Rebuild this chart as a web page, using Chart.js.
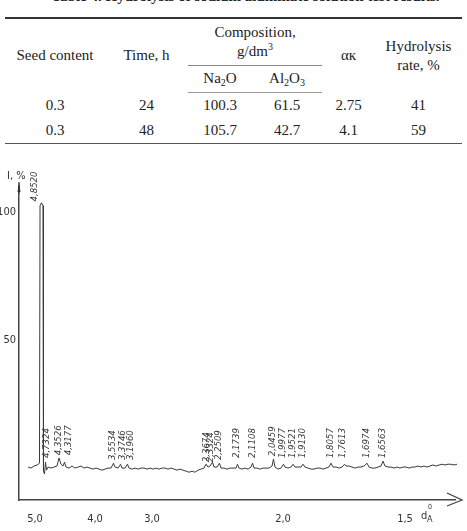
<!DOCTYPE html>
<html>
<head>
<meta charset="utf-8">
<script src="https://cdn.jsdelivr.net/npm/chart.js@4/dist/chart.umd.min.js"></script>
<style>
  html, body { margin: 0; padding: 0; background: #fff; }
  body { width: 467px; height: 531px; position: relative; overflow: hidden;
         font-family: 'Liberation Serif', 'Times New Roman', serif; color: #222; }
  .title { position: absolute; left: 12px; width: 467px; top: -12px; text-align: center;
           font-weight: bold; font-size: 15px; white-space: nowrap; }
  table { position: absolute; left: 5px; top: 17px; width: 457px; border-collapse: collapse;
          table-layout: fixed; font-size: 15px; }
  td { text-align: center; vertical-align: middle; padding: 0; line-height: 19px; }
  thead tr.h1 td { height: 46px; }
  thead tr.h2 td { height: 27px; }
  tbody td { height: 25px; }
  table { border-top: 2px solid #333; border-bottom: 1.5px solid #555; }
  thead tr.h2 td { border-bottom: 1px solid #999; }
  td.comp { position: relative; }
  td.comp::after { content: ''; position: absolute; left: 0; right: 0; bottom: -1px; border-bottom: 1px solid #888; }
  sub { font-size: 10px; vertical-align: -3px; line-height: 0; }
  sup { font-size: 10px; vertical-align: 6px; line-height: 0; }
  #wrap { position: absolute; left: 0; top: 150px; width: 467px; height: 381px; }
</style>
</head>
<body>
<div class="title">Table 4. Hydrolysis of sodium aluminate solution test results.</div>
<table>
  <colgroup>
    <col style="width:100px"><col style="width:83px"><col style="width:64px">
    <col style="width:70px"><col style="width:53px"><col style="width:87px">
  </colgroup>
  <thead>
    <tr class="h1">
      <td rowspan="2">Seed content</td>
      <td rowspan="2">Time, h</td>
      <td colspan="2" class="comp">Composition,<br>g/dm<sup>3</sup></td>
      <td rowspan="2">αк</td>
      <td rowspan="2">Hydrolysis<br>rate, %</td>
    </tr>
    <tr class="h2">
      <td>Na<sub>2</sub>O</td>
      <td>Al<sub>2</sub>O<sub>3</sub></td>
    </tr>
  </thead>
  <tbody>
    <tr><td>0.3</td><td>24</td><td>100.3</td><td>61.5</td><td>2.75</td><td>41</td></tr>
    <tr><td>0.3</td><td>48</td><td>105.7</td><td>42.7</td><td>4.1</td><td>59</td></tr>
  </tbody>
</table>
<div id="wrap"><canvas id="xrd" width="467" height="381"></canvas></div>
<script>
// diffractogram trace: scan position (2θ, deg) and relative intensity (%)
const scanAngle = [
  16.13, 16.50, 16.88, 17.25, 17.56, 17.63, 17.81, 18.00, 18.06, 18.19,
  18.31, 18.44, 18.63, 19.00, 19.38, 19.75, 20.00, 20.25, 20.50, 20.69,
  20.88, 21.25, 21.63, 22.00, 22.38, 22.75, 23.13, 23.50, 23.88, 24.25,
  24.63, 25.00, 25.38, 25.75, 26.13, 26.50, 26.81, 27.00, 27.38, 27.69,
  27.88, 28.25, 28.56, 28.75, 29.13, 29.50, 29.88, 30.25, 30.63, 31.00,
  31.38, 31.75, 32.13, 32.50, 32.88, 33.25, 33.63, 34.00, 34.38, 34.75,
  35.13, 35.50, 35.88, 36.25, 36.63, 37.00, 37.38, 37.75, 38.13, 38.38,
  38.63, 38.88, 39.19, 39.38, 39.75, 40.06, 40.25, 40.63, 41.00, 41.38,
  41.75, 42.13, 42.31, 42.50, 42.88, 43.25, 43.63, 44.00, 44.19, 44.38,
  44.75, 45.13, 45.50, 45.88, 46.25, 46.63, 46.81, 47.00, 47.38, 47.75,
  48.06, 48.25, 48.63, 49.00, 49.25, 49.50, 49.88, 50.25, 50.50, 50.75,
  51.13, 51.50, 51.88, 52.25, 52.63, 53.00, 53.38, 53.75, 54.00, 54.25,
  54.63, 55.00, 55.38, 55.69, 55.88, 56.25, 56.63, 57.00, 57.38, 57.75,
  58.13, 58.50, 58.75, 59.13, 59.50, 59.88, 60.25, 60.50, 60.75, 61.13,
  61.50, 61.88, 62.25, 62.63, 63.00, 63.38, 63.75, 64.13, 64.50, 64.88,
  65.25, 65.63, 66.00, 66.38, 66.75, 67.13, 67.50, 67.88, 68.25, 68.63,
  69.00, 69.38, 69.75
];
const scanIntensity = [
  0.8, 0.4, 1.2, 1.6, 2.3, 102.3, 103.5, 102.3, -0.8, -1.9,
  2.7, -0.4, 0.8, 0.4, 0.8, 1.2, 4.3, 1.9, 1.2, 2.7,
  0.8, 0.4, 1.2, 0.4, 0.8, 1.2, 0.4, 0.8, 0.4, 0,
  0.4, 0, -0.4, 0, 0.4, 0.4, 2.3, 0.8, 0.4, 1.9,
  0.4, 0.4, 1.9, 0.4, 0, 0.4, 0, 0.4, 0.4, 0,
  0.4, 0, 0.4, 0, 0.4, 0.4, 0, 0.4, 0, -0.4,
  0, -0.4, -0.8, -1.2, -0.8, -1.2, -0.4, 0, 0.4, 1.9,
  0.8, 1.2, 2.7, 0.8, 0.8, 2.3, 0.4, 0.4, 0, 0.4,
  0.4, 0.4, 1.9, 0.4, 0, 0.4, 0, 0.8, 2.3, 0.4,
  0.4, 0, 0.4, 0.4, 0.4, 1.2, 3.9, 0.8, 0, 0.4,
  1.9, 0.8, 0.4, 0.8, 1.9, 0.8, 0.8, 0.8, 1.9, 0.8,
  0.4, 0, 0, 0.4, 0.4, 0, 0.4, 0.8, 2.3, 0.8,
  0.8, 0.4, 0.8, 1.9, 1.2, 1.2, 0.8, 0.4, 0.8, 0.8,
  1.2, 2.3, 0.8, 0.4, 0.4, 0.8, 1.2, 3.1, 1.2, 0.8,
  0.8, 0.4, 0.8, 0.4, 0.8, 0.8, 0.4, 0.8, 0.8, 1.2,
  0.8, 1.2, 0.8, 1.2, 1.6, 1.2, 1.6, 1.9, 1.6, 1.9,
  1.9, 1.6, 1.9
];

// interplanar spacing labels written above the reflections
const peakAngle = [17.0, 18.45, 20.0, 21.25, 26.75, 27.88, 28.88, 38.5, 39.0, 39.88,
                   42.25, 44.13, 46.75, 48.0, 49.13, 50.38, 54.0, 55.5, 58.5, 60.38];
const peakBase = [104, 4.3, 5.4, 5.4, 3.5, 3.5, 3.5, 2.7, 2.7, 3.5,
                  4.3, 4.3, 5.0, 4.3, 4.3, 4.3, 4.3, 4.3, 4.3, 4.3];
const peakLabel = ['4,8520', '4,7324', '4,3526', '4,3177', '3,5534', '3,3746', '3,1960',
                   '2,3674', '2,3324', '2,2509', '2,1739', '2,1108', '2,0459', '1,9977',
                   '1,9521', '1,9130', '1,8057', '1,7613', '1,6974', '1,6563'];

// d-spacing scale marks
const tickAngle = [17.0, 24.5, 31.63, 48.0, 63.25];
const tickLabel = ['5,0', '4,0', '3,0', '2,0', '1,5'];
const yTickValue = [50, 100];

const axisFont = "'Liberation Sans Narrow', 'DejaVu Sans Condensed', 'Liberation Sans', sans-serif";

const extras = {
  id: 'extras',
  afterDraw(chart) {
    const { ctx, scales: { x, y } } = chart;
    ctx.save();
    ctx.strokeStyle = '#444';
    ctx.fillStyle = '#333';
    ctx.lineWidth = 1.3;

    // arrow on the d axis
    const ax = x.right, ay = y.bottom;
    ctx.beginPath();
    ctx.moveTo(ax - 8, ay - 7);
    ctx.lineTo(ax + 7, ay);
    ctx.lineTo(ax - 8, ay + 6);
    ctx.stroke();

    // top of intensity axis
    ctx.beginPath();
    ctx.moveTo(x.left, y.top + 8);
    ctx.lineTo(x.left, y.top - 4);
    ctx.stroke();
    ctx.beginPath();
    ctx.moveTo(x.left - 1.5, y.top + 6);
    ctx.lineTo(x.left, y.top - 4);
    ctx.lineTo(x.left + 1.5, y.top + 6);
    ctx.closePath();
    ctx.fill();

    // axis names
    ctx.font = '11px ' + axisFont;
    ctx.textBaseline = 'middle';
    ctx.textAlign = 'left';
    ctx.fillText('I, %', x.left - 12, y.top - 10);
    ctx.fillText('d', ax - 34, ay + 16);
    ctx.font = '9px ' + axisFont;
    ctx.fillText('A', ax - 28, ay + 20);
    ctx.font = '7px ' + axisFont;
    ctx.fillText('0', ax - 27, ay + 7);

    // d-spacing labels, vertical
    ctx.font = 'italic 9.5px ' + axisFont;
    ctx.fillStyle = '#3a3a3a';
    peakLabel.forEach((txt, i) => {
      const px = x.getPixelForValue(peakAngle[i]);
      const py = y.getPixelForValue(peakBase[i]);
      ctx.save();
      ctx.translate(px, py);
      ctx.rotate(-Math.PI / 2);
      ctx.textAlign = 'left';
      ctx.textBaseline = 'middle';
      ctx.fillText(txt, 0, 0);
      ctx.restore();
    });
    ctx.restore();
  }
};

new Chart(document.getElementById('xrd').getContext('2d'), {
  type: 'line',
  data: {
    datasets: [{
      label: 'XRD',
      data: scanAngle.map((a, i) => ({ x: a, y: scanIntensity[i] })),
      borderColor: '#3a3a3a',
      borderWidth: 1,
      pointRadius: 0,
      tension: 0,
      fill: false,
      clip: false
    }]
  },
  options: {
    responsive: false,
    animation: false,
    layout: { padding: { left: 0, right: 12, top: 36, bottom: 0 } },
    plugins: { legend: { display: false }, tooltip: { enabled: false } },
    scales: {
      x: {
        type: 'linear',
        min: 15,
        max: 69.5,
        afterBuildTicks: (s) => { s.ticks = tickAngle.map(v => ({ value: v })); },
        afterFit: (s) => { s.height = 31; },
        ticks: {
          autoSkip: false,
          maxRotation: 0,
          padding: 13,
          color: '#333',
          font: { family: axisFont, size: 11 },
          callback: (v, i) => tickLabel[i]
        },
        grid: { display: false, drawTicks: false },
        border: { color: '#444', width: 1.5 }
      },
      y: {
        min: -12,
        max: 110,
        afterBuildTicks: (s) => { s.ticks = yTickValue.map(v => ({ value: v })); },
        afterFit: (s) => { s.width = 19; },
        ticks: {
          padding: 3,
          color: '#333',
          font: { family: axisFont, size: 11 }
        },
        grid: { display: false, drawTicks: false },
        border: { color: '#444', width: 1.5 }
      }
    }
  },
  plugins: [extras]
});
</script>
</body>
</html>
